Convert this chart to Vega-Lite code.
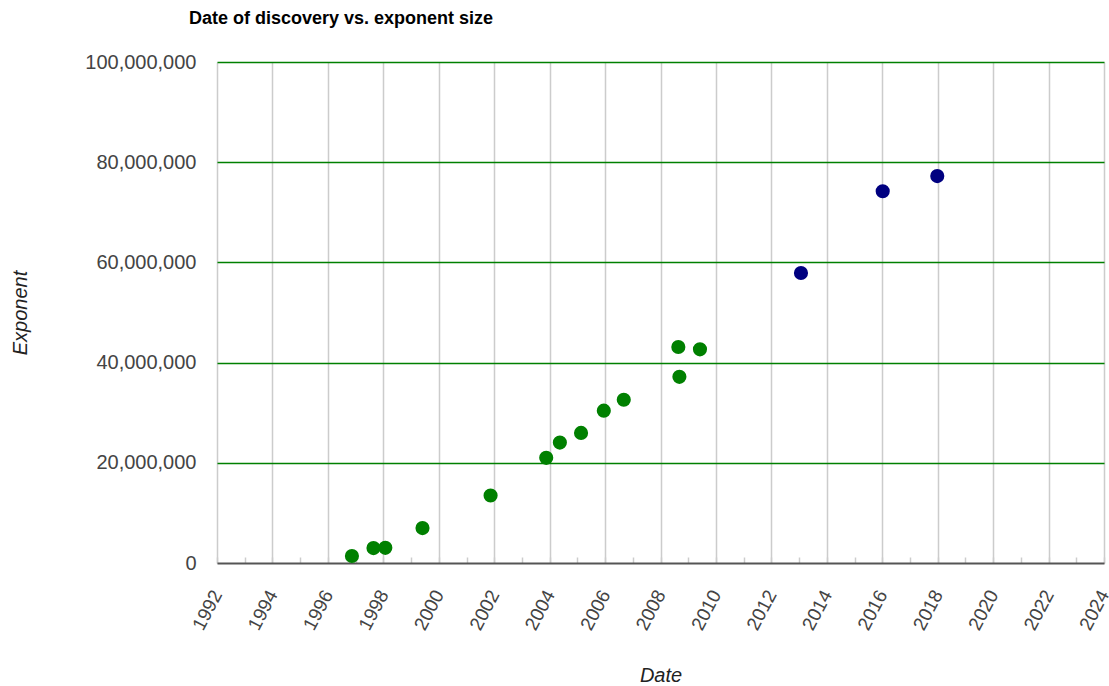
{
  "$schema": "https://vega.github.io/schema/vega-lite/v6.json",
  "width": 887,
  "height": 501,
  "autosize": {"type": "none"},
  "padding": {"left": 217, "top": 62, "right": 5, "bottom": 123},
  "background": "white",
  "title": {
    "text": "Date of discovery vs. exponent size",
    "anchor": "start",
    "frame": "group",
    "dx": -28,
    "offset": 24,
    "font": "Liberation Sans",
    "fontSize": 18,
    "fontWeight": "bold",
    "color": "#000000"
  },
  "config": {
    "view": {"stroke": null},
    "font": "Liberation Sans"
  },
  "data": {
    "values": [
      {"date": "1996-11-13", "exponent": 1398269, "group": "GIMPS"},
      {"date": "1997-08-24", "exponent": 2976221, "group": "GIMPS"},
      {"date": "1998-01-27", "exponent": 3021377, "group": "GIMPS"},
      {"date": "1999-06-01", "exponent": 6972593, "group": "GIMPS"},
      {"date": "2001-11-14", "exponent": 13466917, "group": "GIMPS"},
      {"date": "2003-11-17", "exponent": 20996011, "group": "GIMPS"},
      {"date": "2004-05-15", "exponent": 24036583, "group": "GIMPS"},
      {"date": "2005-02-18", "exponent": 25964951, "group": "GIMPS"},
      {"date": "2005-12-15", "exponent": 30402457, "group": "GIMPS"},
      {"date": "2006-09-04", "exponent": 32582657, "group": "GIMPS"},
      {"date": "2008-09-06", "exponent": 37156667, "group": "GIMPS"},
      {"date": "2009-06-04", "exponent": 42643801, "group": "GIMPS"},
      {"date": "2008-08-23", "exponent": 43112609, "group": "GIMPS"},
      {"date": "2013-01-25", "exponent": 57885161, "group": "Recent"},
      {"date": "2016-01-07", "exponent": 74207281, "group": "Recent"},
      {"date": "2017-12-26", "exponent": 77232917, "group": "Recent"}
    ]
  },
  "mark": {"type": "circle", "size": 200, "opacity": 1},
  "encoding": {
    "x": {
      "field": "date",
      "type": "temporal",
      "scale": {"domain": ["1992-01-01", "2024-01-01"], "nice": false},
      "axis": {
        "title": "Date",
        "titleFont": "Liberation Sans",
        "titleFontSize": 20,
        "titleFontStyle": "italic",
        "titleFontWeight": "normal",
        "titleColor": "#222222",
        "titleY": 112,
        "titleBaseline": "middle",
        "values": [
          "1992-01-01", "1993-01-01", "1994-01-01", "1995-01-01", "1996-01-01", "1997-01-01",
          "1998-01-01", "1999-01-01", "2000-01-01", "2001-01-01", "2002-01-01", "2003-01-01",
          "2004-01-01", "2005-01-01", "2006-01-01", "2007-01-01", "2008-01-01", "2009-01-01",
          "2010-01-01", "2011-01-01", "2012-01-01", "2013-01-01", "2014-01-01", "2015-01-01",
          "2016-01-01", "2017-01-01", "2018-01-01", "2019-01-01", "2020-01-01", "2021-01-01",
          "2022-01-01", "2023-01-01", "2024-01-01"
        ],
        "format": "%Y",
        "labelExpr": "year(datum.value) % 2 == 0 ? datum.label : ''",
        "labelAngle": -62,
        "labelFont": "Liberation Sans",
        "labelFontSize": 19,
        "labelColor": "#444444",
        "labelPadding": 34,
        "labelFlush": false,
        "labelOverlap": false,
        "grid": true,
        "gridColor": {"condition": {"test": "year(datum.value) % 2 == 0", "value": "#cccccc"}, "value": "transparent"},
        "gridWidth": 1.5,
        "ticks": true,
        "tickSize": -6,
        "tickColor": "#cccccc",
        "tickWidth": 1.5,
        "domain": true,
        "domainColor": "#555555",
        "domainWidth": 2
      }
    },
    "y": {
      "field": "exponent",
      "type": "quantitative",
      "scale": {"domain": [0, 100000000], "nice": false},
      "axis": {
        "title": "Exponent",
        "titleFont": "Liberation Sans",
        "titleFontSize": 20,
        "titleFontStyle": "italic",
        "titleFontWeight": "normal",
        "titleColor": "#222222",
        "titleX": -197,
        "titleBaseline": "middle",
        "values": [0, 20000000, 40000000, 60000000, 80000000, 100000000],
        "format": ",d",
        "labelFont": "Liberation Sans",
        "labelFontSize": 20,
        "labelColor": "#444444",
        "labelPadding": 21,
        "ticks": false,
        "domain": false,
        "grid": true,
        "gridColor": {"condition": {"test": "datum.value == 0", "value": "transparent"}, "value": "#008000"},
        "gridWidth": 1.5
      }
    },
    "color": {
      "field": "group",
      "type": "nominal",
      "scale": {"domain": ["GIMPS", "Recent"], "range": ["#008000", "#000080"]},
      "legend": null
    }
  }
}
